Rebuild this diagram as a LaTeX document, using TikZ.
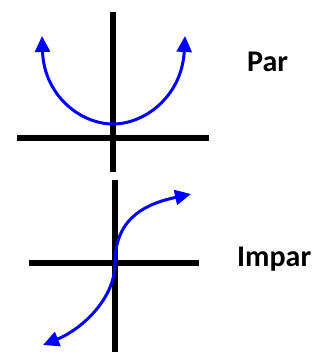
\documentclass[tikz,border=0pt]{standalone}
\usepackage{fontspec}
\setmainfont{Carlito}
\usetikzlibrary{arrows.meta}
\definecolor{col1}{HTML}{0000FF}

\begin{document}
\begin{tikzpicture}[x=1pt, y=-1pt]
    \tikzstyle{axis} += [black, line width=6pt];
    \tikzstyle{crv} += [col1, line width=3pt, -{Triangle[length=16pt, width=15pt]}];
    \tikzstyle{lbl} += [anchor=base west, inner sep=0pt, font=\fontsize{30}{36}\selectfont\bfseries];
    \useasboundingbox (0,0) rectangle (323,352);
    % even
    \coordinate (a_t) at (113,  12);
    \coordinate (a_b) at (113, 172);
    \coordinate (a_l) at ( 17, 138);
    \coordinate (a_r) at (209, 138);
    \coordinate (v_0) at (113, 124);
    \coordinate (v_l) at ( 42,  36);
    \coordinate (v_r) at (185,  36);
    % odd
    \coordinate (b_t) at (115, 180);
    \coordinate (b_b) at (115, 352);
    \coordinate (b_l) at ( 29, 263);
    \coordinate (b_r) at (199, 263);
    \coordinate (o_0) at (115, 263);
    \coordinate (o_r) at (191, 194);
    \coordinate (o_l) at ( 43, 345);
    \node (par)   at (247,  72) [lbl]{Par};
    \node (impar) at (237, 266) [lbl]{Impar};

    \begin{scope}
      \draw[axis] (a_t) -- (a_b);
      \draw[axis] (a_l) -- (a_r);
      \draw[axis] (b_t) -- (b_b);
      \draw[axis] (b_l) -- (b_r);
      \draw[crv] (v_0) .. controls (80,124) and (44,95) .. (v_l);
      \draw[crv] (v_0) .. controls (146,124) and (182,95) .. (v_r);
      \draw[crv] (o_0) .. controls (115,215) and (150,203) .. (o_r);
      \draw[crv] (o_0) .. controls (115,300) and (80,330) .. (o_l);
    \end{scope}
\end{tikzpicture}
\end{document}
